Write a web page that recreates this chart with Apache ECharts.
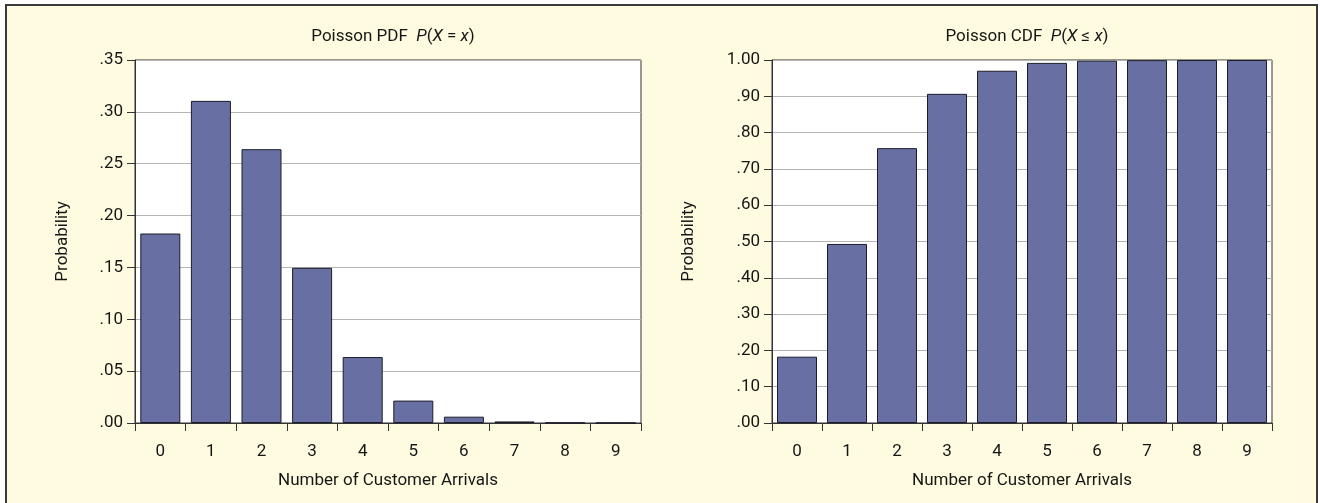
<!DOCTYPE html>
<html>
<head>
<meta charset="utf-8">
<script src="https://cdn.jsdelivr.net/npm/echarts@6/dist/echarts.min.js"></script>
<style>
  html, body { margin: 0; padding: 0; background: #fff; }
  #main { width: 1320px; height: 503px; }
</style>
</head>
<body>
<div id="main"></div>
<script>
// 到达人数 x = 0..9
let arrivals = ['0', '1', '2', '3', '4', '5', '6', '7', '8', '9'];
// P(X = x)
let pdfValues = [0.1827, 0.3106, 0.2640, 0.1496, 0.0636, 0.0216, 0.0061, 0.0015, 0.0003, 0.0001];
// P(X <= x)
let cdfValues = [0.1827, 0.4932, 0.7572, 0.9068, 0.9704, 0.9920, 0.9981, 0.9996, 0.9999, 1.0000];

let fontName = 'Roboto';
let fontSize = 17;
let textColor = '#161616';

// 小数标签 .35 / 1.00
function probLabel(v) {
    let s = v.toFixed(2);
    return s.charAt(0) === '0' ? s.slice(1) : s;
}

function titleRich() {
    return {
        n: { fontFamily: fontName, fontSize: fontSize, fontWeight: 'normal', color: textColor },
        i: { fontFamily: fontName, fontSize: fontSize, fontWeight: 'normal', color: textColor, fontStyle: 'italic' }
    };
}

function makeX(gridIndex) {
    return {
        type: 'category',
        gridIndex: gridIndex,
        data: arrivals,
        name: 'Number of Customer Arrivals',
        nameLocation: 'middle',
        nameGap: 49,
        nameTextStyle: { fontFamily: fontName, fontSize: fontSize, color: textColor },
        axisLine: { lineStyle: { color: '#333', width: 1 } },
        axisTick: { show: true, length: 8, lineStyle: { color: '#333' } },
        axisLabel: { margin: 20, fontFamily: fontName, fontSize: fontSize, color: textColor }
    };
}

function makeY(gridIndex, max, interval) {
    return {
        type: 'value',
        gridIndex: gridIndex,
        min: 0,
        max: max,
        interval: interval,
        name: 'Probability',
        nameLocation: 'middle',
        nameGap: gridIndex === 0 ? 64 : 75,
        nameTextStyle: { fontFamily: fontName, fontSize: fontSize, color: textColor },
        axisLine: { show: true, lineStyle: { color: '#333', width: 1 } },
        axisTick: { show: true, length: 8, lineStyle: { color: '#333' } },
        axisLabel: { margin: 12, fontFamily: fontName, fontSize: fontSize, color: textColor, formatter: probLabel },
        splitLine: { show: true, lineStyle: { color: '#b4b4b4', width: 1 } }
    };
}

let barStyle = {
    color: '#6870a3',
    borderColor: '#1c1c2c',
    borderWidth: 1
};

let myChart = echarts.init(document.getElementById('main'));
let option = {
    backgroundColor: '#fff',
    animation: false,
    graphic: [{
        type: 'rect',
        z: -10,
        silent: true,
        shape: { x: 6, y: 5, width: 1311, height: 520 },
        style: { fill: '#fffbe0', stroke: '#3a3a3a', lineWidth: 2 }
    }],
    title: [{
        text: '{n|Poisson PDF  }{i|P}{n|(}{i|X}{n| = }{i|x}{n|)}',
        left: 388,
        top: 23,
        textAlign: 'center',
        textStyle: { rich: titleRich() }
    }, {
        text: '{n|Poisson CDF  }{i|P}{n|(}{i|X}{n| ≤ }{i|x}{n|)}',
        left: 1022,
        top: 23,
        textAlign: 'center',
        textStyle: { rich: titleRich() }
    }],
    grid: [{
        left: 135, top: 60, width: 506, height: 363,
        show: true, backgroundColor: '#fff', borderColor: '#333', borderWidth: 1
    }, {
        left: 772, top: 60, width: 500, height: 363,
        show: true, backgroundColor: '#fff', borderColor: '#333', borderWidth: 1
    }],
    xAxis: [makeX(0), makeX(1)],
    yAxis: [makeY(0, 0.35, 0.05), makeY(1, 1, 0.1)],
    series: [{
        name: 'PDF',
        type: 'bar',
        xAxisIndex: 0,
        yAxisIndex: 0,
        barWidth: 40,
        itemStyle: barStyle,
        data: pdfValues
    }, {
        name: 'CDF',
        type: 'bar',
        xAxisIndex: 1,
        yAxisIndex: 1,
        barWidth: 40,
        itemStyle: barStyle,
        data: cdfValues
    }]
};
myChart.setOption(option);
</script>
</body>
</html>
